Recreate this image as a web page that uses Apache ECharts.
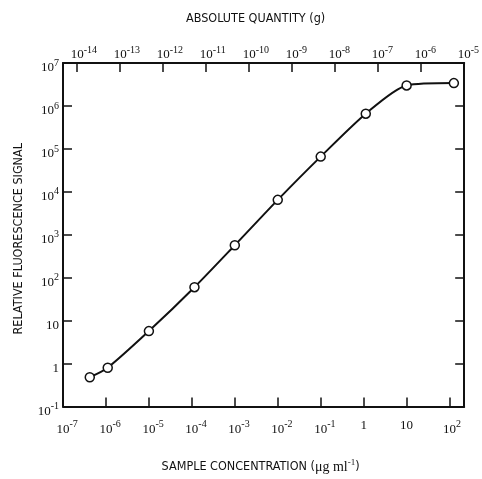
<!DOCTYPE html>
<html>
<head>
<meta charset="utf-8">
<script src="https://cdn.jsdelivr.net/npm/echarts@6/dist/echarts.min.js"></script>
<style>
  html, body { margin: 0; padding: 0; background: #fff; }
  #chart { width: 482px; height: 479px; }
</style>
</head>
<body>
<div id="chart"></div>
<script>
// Sample concentration (µg/ml) and measured relative fluorescence signal
const concentration = [4.2e-7, 1.1e-6, 1.0e-5, 1.15e-4, 1.0e-3, 1.0e-2, 1.0e-1, 1.12, 10, 126];
const signal = [0.48, 0.8, 5.7, 60, 570, 6500, 66000, 6.6e5, 3.0e6, 3.4e6];

// Axis ranges (decade exponents)
const concExp = [-7, 2.34];
const quantityExp = [-14.33, -5];
const signalExp = [-1, 7];

// Decades marked on the absolute-quantity scale
const quantityTicks = [1e-14, 1e-13, 1e-12, 1e-11, 1e-10, 1e-9, 1e-8, 1e-7, 1e-6, 1e-5];

// Titles
const topTitle = 'ABSOLUTE QUANTITY (g)';
const leftTitle = 'RELATIVE FLUORESCENCE SIGNAL';

const ink = '#111';
const numFont = '"Liberation Serif", "DejaVu Serif", serif';
const titleFont = '"Liberation Sans Narrow", "DejaVu Sans Condensed", "Liberation Sans", sans-serif';

function decade(v) {
  const e = Math.log10(v);
  const r = Math.round(e);
  return Math.abs(e - r) < 1e-6 ? r : null;
}

// "10" with a raised exponent; a transparent copy of the exponent in front
// keeps the "10" centred on its tick
function powLabelCentered(v, plainSmall) {
  const r = decade(v);
  if (r === null) return '';
  if (plainSmall && r === 0) return '{b|1}';
  if (plainSmall && r === 1) return '{b|10}';
  const ex = r < 0 ? '-' + Math.abs(r) : String(r);
  return '{h|' + ex + '}{b|10}{s|' + ex + '}';
}
function powLabel(v) {
  const r = decade(v);
  if (r === null) return '';
  if (r === 0) return '{b|1}';
  if (r === 1) return '{b|10}';
  const ex = r < 0 ? '-' + Math.abs(r) : String(r);
  return '{b|10}{s|' + ex + '}';
}

const rich = {
  b: { fontFamily: numFont, fontSize: 13, color: ink },
  s: { fontFamily: numFont, fontSize: 10, color: ink, padding: [0, 0, 10, 0] },
  h: { fontFamily: numFont, fontSize: 10, color: 'transparent', padding: [0, 0, 10, 0] }
};

const axisLine = { show: true, onZero: false, lineStyle: { color: ink, width: 2 } };
const axisTick = { show: true, inside: true, length: 9, lineStyle: { color: ink, width: 1.5 } };

const chart = echarts.init(document.getElementById('chart'), null, { renderer: 'canvas' });

chart.setOption({
  backgroundColor: '#fff',
  animation: false,
  grid: { left: 63, right: 15, top: 63, bottom: 66, containLabel: false },
  xAxis: [
    {
      type: 'log', logBase: 10, position: 'bottom',
      min: Math.pow(10, concExp[0]), max: Math.pow(10, concExp[1]),
      interval: 1,
      axisLine, axisTick,
      splitLine: { show: false },
      axisLabel: {
        margin: 13, showMinLabel: true, showMaxLabel: true,
        formatter: v => powLabelCentered(v, true), rich
      },
      name: 'SAMPLE CONCENTRATION ({u|μg ml}{p|-1})',
      nameLocation: 'middle', nameGap: 52,
      nameTextStyle: {
        fontFamily: titleFont, fontSize: 12.5, color: ink, padding: [0, 0, 0, -6],
        rich: {
          u: { fontFamily: numFont, fontSize: 14, color: ink },
          p: { fontFamily: numFont, fontSize: 9, color: ink, padding: [0, 0, 8, 0] }
        }
      }
    },
    {
      type: 'log', logBase: 10, position: 'top',
      min: Math.pow(10, quantityExp[0]), max: Math.pow(10, quantityExp[1]),
      axisLine,
      axisTick: Object.assign({}, axisTick, { customValues: quantityTicks }),
      splitLine: { show: false },
      axisLabel: {
        margin: -2, customValues: quantityTicks,
        formatter: v => powLabelCentered(v, false), rich
      },
      name: topTitle, nameLocation: 'middle', nameGap: 38,
      nameTextStyle: { fontFamily: titleFont, fontSize: 12.5, color: ink, padding: [0, 0, 0, -16] }
    }
  ],
  yAxis: [
    {
      type: 'log', logBase: 10, position: 'left',
      min: Math.pow(10, signalExp[0]), max: Math.pow(10, signalExp[1]),
      interval: 1,
      axisLine, axisTick,
      splitLine: { show: false },
      axisLabel: {
        margin: 4, showMinLabel: true, showMaxLabel: true,
        padding: [10, 0, 0, 0],
        formatter: powLabel, rich
      },
      name: leftTitle, nameLocation: 'middle', nameGap: 38, nameRotate: 90,
      nameTextStyle: { fontFamily: titleFont, fontSize: 12.5, color: ink, padding: [0, 0, 0, -8] }
    },
    {
      type: 'log', logBase: 10, position: 'right',
      min: Math.pow(10, signalExp[0]), max: Math.pow(10, signalExp[1]),
      interval: 1,
      axisLine, axisTick,
      splitLine: { show: false },
      axisLabel: { show: false }
    }
  ],
  series: [
    {
      type: 'line',
      xAxisIndex: 0, yAxisIndex: 0,
      data: concentration.map((c, i) => [c, signal[i]]),
      smooth: 0.25,
      symbol: 'circle', symbolSize: 9,
      lineStyle: { color: ink, width: 2 },
      itemStyle: { color: '#fff', borderColor: ink, borderWidth: 1.5 },
      z: 3
    }
  ]
});
</script>
</body>
</html>
